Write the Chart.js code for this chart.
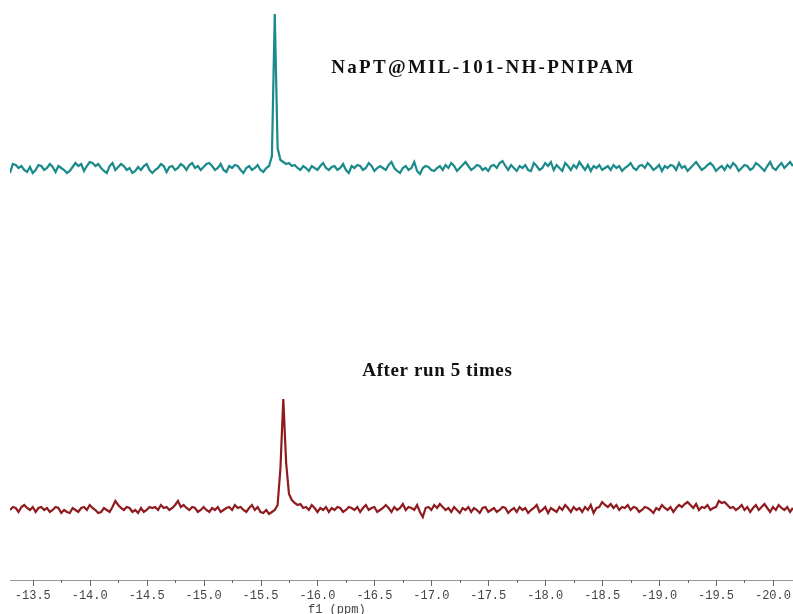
<!DOCTYPE html>
<html>
<head>
<meta charset="utf-8">
<script src="https://cdn.jsdelivr.net/npm/chart.js@4.4.1/dist/chart.umd.min.js"></script>
<style>
  html, body { margin: 0; padding: 0; background: #fff; }
  #wrap { width: 793px; height: 614px; position: relative; }
</style>
</head>
<body>
<div id="wrap"><canvas id="nmr"></canvas></div>
<script>
'use strict'

// chemical shift grid (ppm), spectrum runs from ppmStart downwards
const ppmStart = -13.30
const ppmStep = 0.025

// intensities, one per grid point (276 points)
const freshIntensity = [
  -5, 4, 3, 0, 2, -2, -4, 1, -5, -2,
  3, 2, -2, 0, 4, 1, -4, 2, 0, -2,
  -5, -3, 1, 5, 2, 4, -3, 2, 6, 5,
  2, 4, 0, -3, -5, 2, 5, -2, 1, 4,
  2, -2, 0, -5, -3, 1, -2, 2, 4, -2,
  -5, -2, 0, 4, 2, -4, 1, 2, -2, 0,
  4, 2, -2, 3, 5, 0, 2, -2, 1, 4,
  5, 2, -2, 0, 4, -2, -4, 2, 0, 3,
  2, -2, -5, 0, 2, -2, 0, 3, -2, -4,
  0, 2, 12, 154, 20, 8, 6, 4, 5, 2,
  3, 0, -2, 2, 0, -3, 2, 0, -2, 2,
  5, 0, -2, 1, 2, -2, 0, 4, -2, -5,
  2, 0, 3, 2, -2, 0, 5, 2, -3, 0,
  2, 0, -2, 3, 6, 0, -3, -5, 0, 2,
  -2, 0, 6, -3, -6, 0, 2, 1, -2, -3,
  0, 2, -2, 3, 0, 5, 2, -3, 0, 3,
  6, 2, -2, 0, 3, 2, -2, 0, -3, 2,
  3, 0, 5, 7, 2, -2, 3, 0, -3, 2,
  0, 3, -2, -3, 5, 2, -2, 0, 5, 2,
  6, -2, 3, 0, -3, 5, 2, -2, 3, 0,
  6, 2, -2, 3, -3, 2, 0, 3, -2, 0,
  2, -2, 3, 0, 2, -3, 0, 2, 5, 0,
  -2, 2, 3, 0, 5, 2, -2, 0, 3, -3,
  2, 0, 3, 2, -2, 5, 0, 2, -3, 0,
  3, 6, 2, -2, 0, 3, 5, 2, -3, 0,
  2, -2, 3, 0, 5, 2, -3, 0, 3, 2,
  -2, 0, 5, 3, 0, -3, 2, 6, 0, -2,
  2, 5, 0, 3, 6, 2
]

const reusedIntensity = [
  0, 3, 2, -2, 3, 5, 2, 0, 3, -2,
  2, 3, 0, 2, -2, 0, 3, 2, -3, 0,
  -2, -3, 2, 0, -2, 2, 3, 0, 5, 2,
  0, -3, -2, 2, 0, -2, 3, 9, 5, 2,
  0, 3, 2, -2, 0, -3, 2, -2, 0, 3,
  2, 3, 0, 5, 2, 3, 0, 2, 5, 9,
  3, 5, 2, 0, 3, 2, -2, 0, 3, 0,
  -2, 2, 0, 3, -2, 0, 2, 3, 0, 5,
  2, 3, 0, -2, 2, 5, 0, 3, -2, -3,
  0, -4, -2, 0, 5, 42, 111, 47, 16, 10,
  7, 5, 6, 2, 3, 0, 5, 2, -2, 2,
  0, 3, -2, 2, 0, 3, 2, -2, 0, 3,
  2, 0, 3, -2, 2, 5, 0, 2, 3, -2,
  0, 2, 5, 2, -2, 3, 0, 2, 6, 0,
  3, 2, 0, 5, -2, -7, 2, 3, 0, 5,
  2, 6, 3, 0, 2, -2, 3, 0, -3, 2,
  0, 3, -2, 2, 0, -3, 2, 3, -2, 0,
  2, -2, 0, 3, 2, -3, 0, 2, -2, 3,
  0, 2, -3, 0, 2, 5, -2, 0, 3, -3,
  2, 0, -2, 3, 0, 5, 2, -2, 3, 0,
  2, -2, 3, 0, 5, -3, 2, 3, 8, 5,
  3, 6, 2, 5, 0, 3, 2, 5, 0, 3,
  2, -2, 0, 3, 2, 0, -3, 2, 0, 5,
  2, 0, 3, -2, 2, 5, 3, 6, 8, 5,
  2, 6, 0, 3, 2, 5, 0, 2, 3, 9,
  7, 8, 5, 2, 3, 0, 2, 5, 0, 3,
  -2, 2, 5, 0, 3, 6, 2, -2, 3, 0,
  5, 2, 0, 3, -2, 2
]

const seriesLabels = ['NaPT@MIL-101-NH-PNIPAM', 'After run 5 times']

// stacked display: vertical offset of each trace
const freshOffset = 412
const reusedOffset = 70

function toPoints(intensity, offset) {
  return intensity.map((v, i) => ({ x: ppmStart - i * ppmStep, y: offset + v }))
}

function isHalf(v) {
  return Math.abs(v * 2 - Math.round(v * 2)) < 1e-6
}

// minor/major tick marks, axis title and the trace captions
const decor = {
  id: 'decor',
  afterDraw(chart) {
    const ctx = chart.ctx
    const xs = chart.scales.x
    const ys = chart.scales.y
    const y0 = xs.top

    ctx.save()
    ctx.strokeStyle = '#666'
    ctx.lineWidth = 1
    xs.ticks.forEach(t => {
      const px = Math.round(xs.getPixelForValue(t.value)) + 0.5
      ctx.beginPath()
      ctx.moveTo(px, y0)
      ctx.lineTo(px, y0 + (isHalf(t.value) ? 6 : 3))
      ctx.stroke()
    })

    ctx.fillStyle = '#444'
    ctx.font = '12px "Liberation Mono"'
    ctx.textAlign = 'center'
    ctx.textBaseline = 'alphabetic'
    ctx.fillText('f1 (ppm)', xs.getPixelForValue(-16.17), y0 + 33)

    ctx.fillStyle = '#111'
    ctx.font = 'bold 19px "Liberation Serif"'
    ctx.letterSpacing = '2.3px'
    ctx.fillText(seriesLabels[0], xs.getPixelForValue(-17.457), ys.getPixelForValue(507))
    ctx.letterSpacing = '0.6px'
    ctx.fillText(seriesLabels[1], xs.getPixelForValue(-17.053), ys.getPixelForValue(204))
    ctx.restore()
  }
}

new Chart(document.getElementById('nmr').getContext('2d'), {
  type: 'line',
  data: {
    datasets: [{
      label: seriesLabels[0],
      data: toPoints(freshIntensity, freshOffset),
      borderColor: '#1b8a8a',
      borderWidth: 2.2
    }, {
      label: seriesLabels[1],
      data: toPoints(reusedIntensity, reusedOffset),
      borderColor: '#8e1b1f',
      borderWidth: 2.2
    }]
  },
  options: {
    responsive: true,
    maintainAspectRatio: false,
    animation: false,
    parsing: false,
    elements: {
      point: { radius: 0 },
      line: { tension: 0 }
    },
    layout: { padding: { left: 10, top: 0, right: 0, bottom: 0 } },
    plugins: {
      legend: { display: false },
      tooltip: { enabled: false }
    },
    scales: {
      x: {
        type: 'linear',
        reverse: true,
        min: -20.176,
        max: ppmStart,
        afterFit(scale) {
          scale.height = 34
          scale.paddingLeft = 0
          scale.paddingRight = 0
        },
        grid: { display: false, drawTicks: false },
        border: { display: true, color: '#9a9a9a', width: 1 },
        ticks: {
          stepSize: 0.25,
          includeBounds: false,
          autoSkip: false,
          maxRotation: 0,
          padding: 9,
          color: '#444',
          font: { family: 'Liberation Mono', size: 12 },
          callback: v => isHalf(v) ? v.toFixed(1) : ''
        }
      },
      y: {
        display: false,
        min: 0,
        max: 580
      }
    }
  },
  plugins: [decor]
})
</script>
</body>
</html>
